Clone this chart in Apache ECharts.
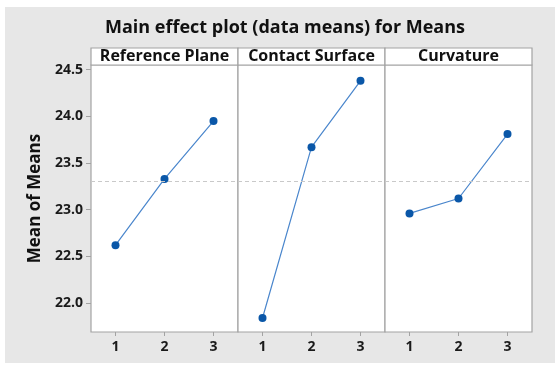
<!DOCTYPE html>
<html>
<head>
<meta charset="utf-8">
<style>html,body{margin:0;padding:0;background:#fff;}#c{width:555px;height:366px;}</style>
<script src="https://cdn.jsdelivr.net/npm/echarts@6/dist/echarts.min.js"></script>
</head>
<body>
<div id="c"></div>
<script>
const categories = ['1', '2', '3'];
const panelNames = ['Reference Plane', 'Contact Surface', 'Curvature'];
const refPlane = [22.62, 23.33, 23.95];
const contactSurface = [21.84, 23.67, 24.38];
const curvature = [22.96, 23.12, 23.81];
const grandMean = 23.30;
const yTickValues = [22.0, 22.5, 23.0, 23.5, 24.0, 24.5];
const yMin = 21.69, yMax = 24.55;

const seriesValues = [refPlane, contactSurface, curvature];
const chart = echarts.init(document.getElementById('c'));
const font = '"Open Sans", "Noto Sans", sans-serif';
const L = 91, T = 65, W = 147, H = 267, HT = 48;
const border = '#a3a3a3';

const grids = [], xAxes = [], yAxes = [], series = [], graphics = [], titles = [];
graphics.push({type:'rect', shape:{x:5, y:7, width:550, height:356}, style:{fill:'#e7e7e7'}, z:-10, silent:true});
titles.push({text:'Main effect plot (data means) for Means', left:280, top:14, textAlign:'center',
  textStyle:{fontFamily:font, fontSize:18, fontWeight:'bold', color:'#111'}});

for (let i = 0; i < 3; i++) {
  grids.push({left:L + i*W, top:T, width:W, height:H, show:true, backgroundColor:'#fff', borderColor:border, borderWidth:1.2});
  xAxes.push({type:'category', gridIndex:i, data:categories, boundaryGap:true,
    axisLine:{show:false}, axisTick:{show:true, alignWithLabel:true, length:4, lineStyle:{color:border}},
    axisLabel:{margin:8, fontFamily:font, fontSize:14, fontWeight:'bold', color:'#1a1a1a'}, splitLine:{show:false}});
  yAxes.push({type:'value', gridIndex:i, min:yMin, max:yMax,
    axisLine:{show:false}, splitLine:{show:false},
    axisTick:{show:i===0, length:5, lineStyle:{color:border}, customValues:yTickValues},
    axisLabel:{show:i===0, margin:8, fontFamily:font, fontSize:14, fontWeight:'bold', color:'#1a1a1a',
      customValues:yTickValues, formatter:v => Number(v).toFixed(1)},
    name: i===0 ? 'Mean of Means' : '', nameLocation:'middle', nameGap:47,
    nameTextStyle:{fontFamily:font, fontSize:17, fontWeight:'bold', color:'#111'}});
  series.push({type:'line', xAxisIndex:i, yAxisIndex:i, data:seriesValues[i],
    symbol:'circle', symbolSize:8, itemStyle:{color:'#0a57a8'},
    lineStyle:{color:'#4a86cc', width:1.2},
    markLine:{silent:true, symbol:'none', label:{show:false},
      lineStyle:{color:'#c9c9c9', type:[4,3], width:1}, data:[{yAxis:grandMean}]}});
  graphics.push({type:'rect', shape:{x:L + i*W, y:HT, width:W, height:T-HT},
    style:{fill:'#fff', stroke:border, lineWidth:1.2}, silent:true});
  titles.push({text:panelNames[i], left:L + i*W + W/2, top:HT - 1, textAlign:'center',
    textStyle:{fontFamily:font, fontSize:16, fontWeight:'bold', color:'#111', lineHeight:18}, padding:[0,0,0,0]});
}

chart.setOption({
  animation:false,
  title:titles,
  grid:grids, xAxis:xAxes, yAxis:yAxes, series:series,
  graphic:graphics
});
</script>
</body>
</html>
